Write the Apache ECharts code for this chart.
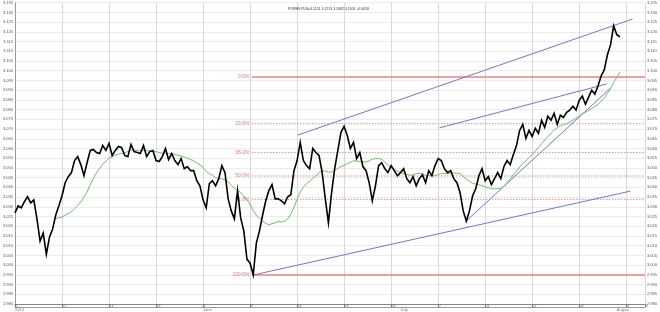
<!DOCTYPE html>
<html><head><meta charset="utf-8">
<script src="https://cdn.jsdelivr.net/npm/echarts@6/dist/echarts.min.js"></script>
<style>html,body{margin:0;padding:0;background:#fff}#c{width:660px;height:312px}</style>
</head><body><div id="c"></div>
<script>
// ---- data ----
const titleText = 'PORBS PLN=3.1151 3.1213 3.1082 3.1103 +0.0018';
const sampleStep = 1 / 3; // trading days between price samples
const prices = [
3.0269,3.0305,3.0295,3.0326,3.0352,3.0320,3.0336,3.0238,3.0124,3.0165,
3.0056,3.0144,3.0186,3.0258,3.0305,3.0357,3.0424,3.0455,3.0476,3.0538,
3.0558,3.0517,3.0460,3.0527,3.0590,3.0595,3.0579,3.0574,3.0615,3.0590,
3.0626,3.0564,3.0590,3.0610,3.0605,3.0564,3.0558,3.0621,3.0584,3.0579,
3.0574,3.0615,3.0558,3.0584,3.0590,3.0538,3.0533,3.0558,3.0600,3.0543,
3.0574,3.0538,3.0517,3.0548,3.0496,3.0507,3.0486,3.0486,3.0434,3.0408,
3.0336,3.0295,3.0419,3.0434,3.0408,3.0445,3.0512,3.0476,3.0341,3.0279,
3.0238,3.0383,3.0243,3.0176,3.0031,3.0010,2.9949,3.0113,3.0176,3.0258,
3.0331,3.0383,3.0414,3.0341,3.0341,3.0331,3.0315,3.0352,3.0362,3.0486,
3.0538,3.0631,3.0538,3.0512,3.0496,3.0600,3.0579,3.0564,3.0476,3.0341,
3.0217,3.0372,3.0496,3.0590,3.0683,3.0714,3.0667,3.0600,3.0631,3.0548,
3.0579,3.0507,3.0486,3.0424,3.0331,3.0408,3.0512,3.0527,3.0496,3.0476,
3.0512,3.0486,3.0460,3.0476,3.0496,3.0445,3.0424,3.0455,3.0408,3.0445,
3.0465,3.0424,3.0486,3.0460,3.0512,3.0548,3.0538,3.0496,3.0476,3.0486,
3.0445,3.0424,3.0372,3.0279,3.0227,3.0279,3.0357,3.0393,3.0460,3.0496,
3.0434,3.0455,3.0414,3.0445,3.0476,3.0445,3.0507,3.0538,3.0517,3.0569,
3.0615,3.0693,3.0724,3.0652,3.0693,3.0662,3.0704,3.0678,3.0745,3.0709,
3.0766,3.0745,3.0781,3.0724,3.0771,3.0760,3.0786,3.0797,3.0817,3.0797,
3.0848,3.0869,3.0828,3.0864,3.0900,3.0880,3.0921,3.0973,3.1004,3.1081,
3.1133,3.1231,3.1185,3.1175
];
const maPeriod = 14;
const yMin = 2.980, yMax = 3.135, yStep = 0.005;
const xMin = 0, xMax = 67, xStep = 5;          // trading days, weekly ticks
const weekDayLabels = ['5','12','19','26','2','9','16','23','30','7','14','21','28','4'];
const monthNames = ['2014','June','July','August'];
const monthDays = [0, 20, 41, 64];
const fibHigh = 3.0968, fibLow = 2.9949, fibStartDay = 25.2;
const fibRatios = [0, 0.236, 0.382, 0.5, 0.618, 1];
const fibNames = ['0.0%','23.6%','38.2%','50.0%','61.8%','100.0%'];
// trend lines: [startDay, startValue, endDay, endValue]
const trendLines = [
  [30.08, 3.0669, 65.68, 3.1266],
  [25.32, 2.9949, 65.47, 3.0381],
  [45.13, 3.0706, 62.92, 3.0932],
  [47.88, 3.0222, 63.35, 3.0911]
];

// ---- build ----
const priceData = prices.map((v, i) => [i * sampleStep, v]);
const maData = [];
for (let i = maPeriod - 1; i < prices.length; i++) {
  let s = 0;
  for (let j = i - maPeriod + 1; j <= i; j++) s += prices[j];
  maData.push([i * sampleStep, +(s / maPeriod).toFixed(5)]);
}
const FONT = 'Liberation Sans';
const series = [];
fibRatios.forEach((r, i) => {
  const lvl = fibHigh - r * (fibHigh - fibLow);
  const solid = (r === 0 || r === 1);
  series.push({
    type: 'line', silent: true, symbol: 'none', animation: false,
    data: [[fibStartDay, lvl], [xMax, lvl]],
    lineStyle: solid ? {color: '#f08080', width: 1.6} : {color: '#ec8a8a', width: 1, type: [1.5, 1.5]},
    z: 2
  });
  series.push({
    type: 'scatter', silent: true, animation: false, clip: false,
    data: [[fibStartDay, lvl]], symbolSize: 1,
    itemStyle: {color: 'rgba(0,0,0,0)'},
    label: {show: true, position: 'left', distance: 2, formatter: fibNames[i],
      color: '#e05050', fontSize: 5, fontFamily: FONT},
    z: 3
  });
});
trendLines.forEach(t => {
  series.push({
    type: 'line', silent: true, symbol: 'none', animation: false,
    data: [[t[0], t[1]], [t[2], t[3]]],
    lineStyle: {color: '#7373e6', width: 1}, z: 3
  });
});
series.push({
  type: 'line', symbol: 'none', animation: false, data: maData,
  lineStyle: {color: '#6cc06c', width: 1}, z: 4
});
series.push({
  type: 'line', symbol: 'none', animation: false, data: priceData,
  lineStyle: {color: '#000', width: 1.6, join: 'miter'}, z: 5
});
series.push({
  type: 'scatter', silent: true, animation: false, clip: false,
  data: monthDays.map((d, i) => ({value: [d, yMin], name: monthNames[i]})),
  symbolSize: 1, itemStyle: {color: 'rgba(0,0,0,0)'},
  label: {show: true, position: 'bottom', distance: 3, align: 'left',
    formatter: p => p.name, color: '#555', fontSize: 4, fontFamily: FONT},
  z: 6
});

const chart = echarts.init(document.getElementById('c'), null, {renderer: 'canvas'});
chart.setOption({
  backgroundColor: '#fff',
  animation: false,
  title: {text: titleText, left: 283, top: 2,
    textStyle: {fontSize: 3.5, fontWeight: 'normal', color: '#333', fontFamily: FONT}},
  grid: {left: 14, right: 14, top: 2.7, bottom: 8},
  xAxis: [{
    type: 'value', min: xMin, max: xMax, interval: xStep,
    axisLine: {show: true, lineStyle: {color: '#888', width: 1}},
    axisTick: {show: true, length: 3, lineStyle: {color: '#777'}},
    axisLabel: {show: true, margin: 0.5, fontSize: 3, align: 'left', padding: [0, 0, 0, 1],
      color: '#666', fontFamily: FONT,
      formatter: v => weekDayLabels[Math.round(v / xStep)] || ''},
    splitLine: {show: true, lineStyle: {color: '#d8d8d8', width: 1}}
  }, {
    type: 'value', min: xMin, max: xMax, position: 'bottom', offset: 3,
    axisLine: {show: true, lineStyle: {color: '#999', width: 1}},
    axisTick: {show: false}, axisLabel: {show: false}, splitLine: {show: false}
  }],
  yAxis: [{
    type: 'value', min: yMin, max: yMax, interval: yStep, position: 'left',
    axisLine: {show: true, lineStyle: {color: '#999'}},
    axisTick: {show: false},
    axisLabel: {fontSize: 4, color: '#555', margin: 2, fontFamily: FONT,
      formatter: v => v.toFixed(3)},
    splitLine: {show: true, lineStyle: {color: '#ececec', width: 1}}
  }, {
    type: 'value', min: yMin, max: yMax, interval: yStep, position: 'right',
    axisLine: {show: true, lineStyle: {color: '#999'}},
    axisTick: {show: false},
    axisLabel: {fontSize: 4, color: '#555', margin: 2, fontFamily: FONT,
      formatter: v => v.toFixed(3)},
    splitLine: {show: false}
  }],
  series: series
});
</script>
</body></html>
